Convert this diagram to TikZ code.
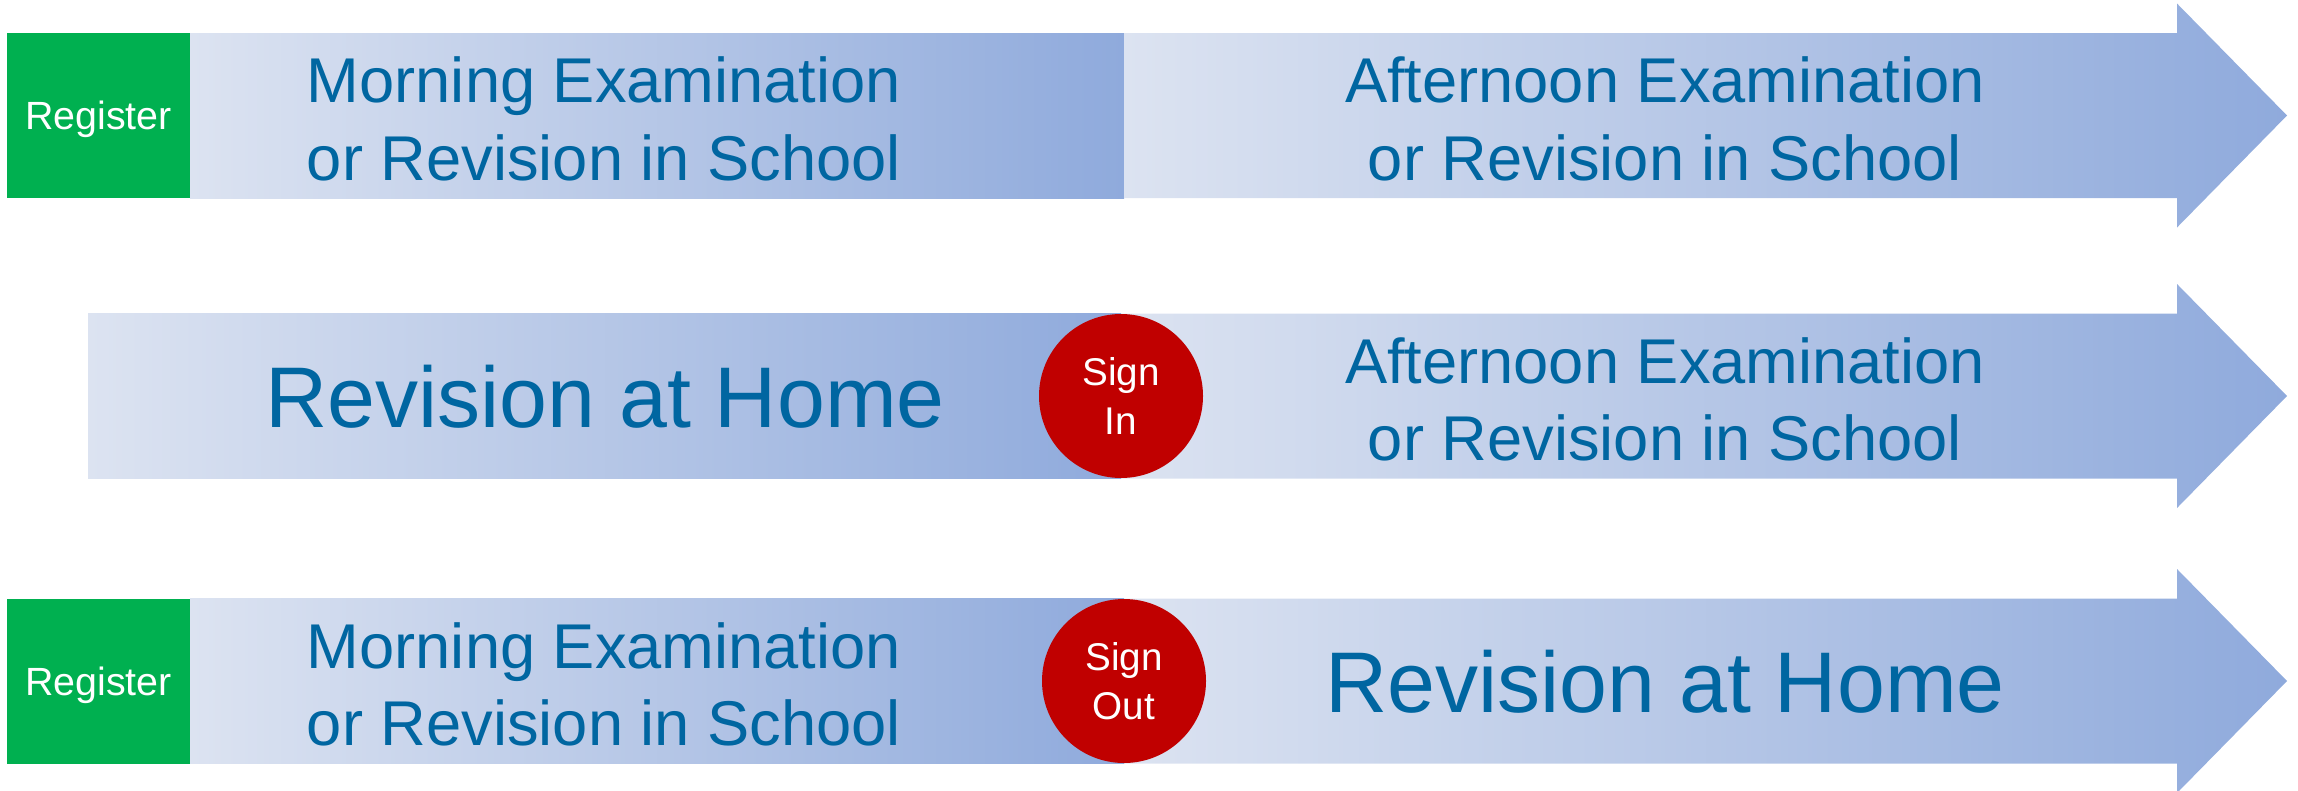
\documentclass[tikz,border=0pt]{standalone}
\usepackage{fontspec}
\setmainfont{Liberation Sans}
\definecolor{barlight}{RGB}{220,227,241}
\definecolor{bardark}{RGB}{143,170,220}
\definecolor{textblue}{RGB}{0,102,161}
\definecolor{regreen}{RGB}{0,176,80}
\definecolor{signred}{RGB}{192,0,0}

\begin{document}
\begin{tikzpicture}[
  bar/.style={left color=barlight, right color=bardark},
  label/.style={text=textblue, font=\fontsize{18}{22}\selectfont, align=center},
  biglabel/.style={text=textblue, font=\fontsize{24.5}{29}\selectfont},
  register/.style={fill=regreen, minimum width=1.83cm, minimum height=1.65cm,
    inner sep=0pt, text depth=0pt, text=white, font=\fontsize{11.2}{13}\selectfont},
  sign/.style={circle, fill=signred, minimum size=1.64cm, inner sep=0pt,
    text=white, align=center, font=\fontsize{11}{14}\selectfont}
]
 \useasboundingbox (0,0) rectangle (22.98,7.90);
 % three arrows: centre line / start / break
 \foreach \y/\a/\m in {6.745/1.90/11.24, 3.94/0.88/11.21, 1.09/1.90/11.24}
 {
   \shade[bar] (\a,\y-0.825) rectangle (\m,\y+0.825);
   \shade[bar] (\m,\y-0.825) -- (21.77,\y-0.825) -- (21.77,\y-1.12)
     -- (22.87,\y) -- (21.77,\y+1.12) -- (21.77,\y+0.825)
     -- (\m,\y+0.825) -- cycle;
 }
 % top row
 \node[register] (reg1) at (0.985,6.745) {Register};
 \node[label] (morning1) at (6.04,6.71) {Morning Examination\\or Revision in School};
 \node[label] (afternoon1) at (16.65,6.71) {Afternoon Examination\\or Revision in School};
 % middle row
 \node[biglabel] (home2) at (6.05,3.93) {Revision at Home};
 \node[sign] (signin) at (11.21,3.94) {Sign\\In};
 \node[label] (afternoon2) at (16.65,3.905) {Afternoon Examination\\or Revision in School};
 % bottom row
 \node[register] (reg3) at (0.985,1.09) {Register};
 \node[label] (morning3) at (6.04,1.055) {Morning Examination\\or Revision in School};
 \node[sign] (signout) at (11.24,1.09) {Sign\\Out};
 \node[biglabel] (home3) at (16.65,1.08) {Revision at Home};
\end{tikzpicture}
\end{document}
